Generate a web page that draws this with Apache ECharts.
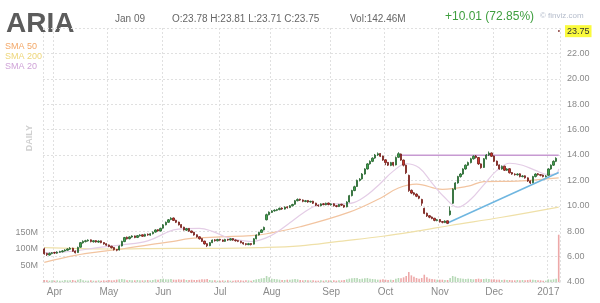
<!DOCTYPE html>
<html><head><meta charset="utf-8">
<script src="https://cdn.jsdelivr.net/npm/echarts@6/dist/echarts.min.js"></script>
<style>html,body{margin:0;padding:0;background:#fff}#c{width:600px;height:303px}</style>
</head><body><div id="c"></div><script>
// trading days shown (year-month, days)
const tradingDays = [
 ['2016-03',[28,29,30,31]],
 ['2016-04',[1,4,5,6,7,8,11,12,13,14,15,18,19,20,21,22,25,26,27,28,29]],
 ['2016-05',[2,3,4,5,6,9,10,11,12,13,16,17,18,19,20,23,24,25,26,27,31]],
 ['2016-06',[1,2,3,6,7,8,9,10,13,14,15,16,17,20,21,22,23,24,27,28,29,30]],
 ['2016-07',[1,5,6,7,8,11,12,13,14,15,18,19,20,21,22,25,26,27,28,29]],
 ['2016-08',[1,2,3,4,5,8,9,10,11,12,15,16,17,18,19,22,23,24,25,26,29,30,31]],
 ['2016-09',[1,2,6,7,8,9,12,13,14,15,16,19,20,21,22,23,26,27,28,29,30]],
 ['2016-10',[3,4,5,6,7,10,11,12,13,14,17,18,19,20,21,24,25,26,27,28,31]],
 ['2016-11',[1,2,3,4,7,8,9,10,11,14,15,16,17,18,21,22,23,25,28,29,30]],
 ['2016-12',[1,2,5,6,7,8,9,12,13,14,15,16,19,20,21,22,23,27,28,29,30]],
 ['2017-01',[3,4,5,6,9]]
];
const monthLabels = {'2016-04':'Apr','2016-05':'May','2016-06':'Jun','2016-07':'Jul','2016-08':'Aug',
 '2016-09':'Sep','2016-10':'Oct','2016-11':'Nov','2016-12':'Dec','2017-01':'2017'};

// [open, close, low, high]
const candles = [
[6.60,6.22,6.15,6.70],[6.25,6.15,6.05,6.30],[6.12,6.25,6.08,6.32],[6.24,6.30,6.18,6.36],[6.32,6.28,6.20,6.38],
[6.27,6.35,6.22,6.42],[6.34,6.40,6.30,6.46],[6.38,6.45,6.33,6.52],[6.44,6.52,6.40,6.58],[6.50,6.60,6.46,6.66],
[6.58,6.65,6.52,6.75],[6.66,6.42,6.38,6.70],[6.44,6.30,6.25,6.48],[6.32,6.72,6.30,6.78],[6.74,7.10,6.70,7.15],
[7.08,7.20,7.02,7.28],[7.18,7.25,7.12,7.32],[7.24,7.30,7.18,7.36],[7.32,7.18,7.12,7.35],[7.17,7.25,7.10,7.30],
[7.26,7.15,7.10,7.30],[7.14,7.22,7.08,7.28],[7.24,7.10,7.05,7.26],[7.11,7.00,6.94,7.14],[7.02,6.90,6.85,7.05],
[6.92,6.80,6.74,6.95],[6.82,6.70,6.64,6.85],[6.72,6.55,6.48,6.75],[6.56,6.50,6.42,6.60],[6.52,6.82,6.48,6.88],
[6.84,7.20,6.80,7.25],[7.18,7.50,7.14,7.55],[7.52,7.40,7.35,7.58],[7.41,7.55,7.36,7.60],[7.54,7.62,7.48,7.68],
[7.63,7.50,7.45,7.66],[7.51,7.65,7.46,7.70],[7.64,7.70,7.58,7.76],[7.72,7.60,7.55,7.75],[7.61,7.75,7.56,7.80],
[7.76,7.70,7.64,7.82],[7.69,7.80,7.64,7.85],[7.80,7.92,7.75,7.98],[7.93,8.10,7.88,8.15],[8.12,8.02,7.96,8.16],
[8.01,8.22,7.98,8.28],[8.24,8.50,8.20,8.56],[8.50,8.70,8.46,8.76],[8.70,8.90,8.66,8.96],[8.92,9.02,8.86,9.10],
[9.04,8.85,8.80,9.08],[8.86,8.70,8.64,8.90],[8.72,8.50,8.45,8.75],[8.52,8.30,8.25,8.55],[8.32,8.10,8.05,8.35],
[8.08,8.20,8.02,8.26],[8.22,8.00,7.95,8.25],[8.02,7.90,7.84,8.05],[7.92,7.70,7.65,7.95],[7.72,7.55,7.50,7.75],
[7.56,7.40,7.34,7.60],[7.42,7.20,7.15,7.45],[7.22,7.00,6.94,7.25],[7.02,6.85,6.75,7.05],[6.86,7.10,6.82,7.15],
[7.10,7.30,7.06,7.35],[7.32,7.25,7.18,7.38],[7.24,7.35,7.20,7.40],[7.36,7.30,7.24,7.40],[7.31,7.20,7.15,7.34],
[7.20,7.35,7.16,7.40],[7.36,7.30,7.24,7.40],[7.30,7.40,7.26,7.45],[7.42,7.30,7.24,7.45],[7.31,7.25,7.18,7.35],
[7.26,7.20,7.14,7.30],[7.21,7.10,7.04,7.24],[7.11,7.00,6.94,7.14],[7.02,6.95,6.88,7.06],[6.94,7.02,6.90,7.08],
[7.03,6.95,6.88,7.06],[6.98,7.40,6.95,7.45],[7.40,7.70,7.36,7.75],[7.70,7.90,7.66,7.96],[7.90,8.10,7.86,8.16],
[8.10,8.30,8.06,8.36],[8.90,9.30,8.85,9.38],[9.30,9.50,9.25,9.56],[9.48,9.60,9.44,9.66],[9.60,9.65,9.54,9.72],
[9.64,9.70,9.58,9.76],[9.70,9.80,9.65,9.86],[9.82,9.75,9.68,9.88],[9.74,9.90,9.70,9.95],[9.92,9.85,9.78,9.96],
[9.86,10.00,9.82,10.06],[10.00,10.10,9.95,10.16],[10.12,10.40,10.08,10.46],[10.40,10.50,10.35,10.58],[10.52,10.45,10.38,10.56],
[10.46,10.35,10.28,10.50],[10.34,10.40,10.28,10.46],[10.42,10.30,10.24,10.45],[10.30,10.35,10.25,10.40],[10.36,10.20,10.14,10.40],
[10.21,10.05,9.98,10.24],[10.06,10.00,9.92,10.10],[10.00,10.15,9.96,10.20],[10.16,10.10,10.04,10.22],[10.08,10.20,10.04,10.25],
[10.22,10.10,10.04,10.25],[10.08,10.15,10.02,10.20],[10.16,10.00,9.94,10.20],[10.01,9.95,9.88,10.05],[9.94,10.10,9.90,10.15],
[10.12,10.05,9.98,10.16],[10.04,9.90,9.84,10.08],[9.92,10.30,9.88,10.36],[10.30,10.80,10.26,10.86],[10.80,11.20,10.74,11.26],
[11.20,11.50,11.15,11.58],[11.52,12.00,11.48,12.06],[12.00,12.10,11.92,12.18],[12.12,12.50,12.06,12.58],[12.50,12.90,12.45,12.96],
[12.90,13.30,12.85,13.36],[13.30,13.50,13.24,13.58],[13.50,13.75,13.44,13.82],[13.76,14.00,13.70,14.08],[14.00,14.10,13.92,14.20],
[14.12,13.90,13.84,14.15],[13.92,13.60,13.54,13.95],[13.62,13.40,13.20,13.66],[13.42,13.20,13.14,13.45],[13.18,13.40,13.12,13.46],
[13.42,13.20,13.10,13.45],[13.22,13.80,13.18,13.88],[13.82,14.10,13.76,14.22],[14.08,13.60,13.54,14.12],[13.60,13.20,13.10,13.64],
[13.20,12.60,12.50,13.24],[12.40,11.20,11.10,12.45],[11.22,11.00,10.92,11.28],[11.02,10.90,10.82,11.08],[10.92,10.75,10.68,10.98],
[10.76,10.60,10.52,10.80],[10.50,10.20,10.00,10.55],[9.80,9.40,9.34,9.85],[9.42,9.20,9.12,9.46],[9.22,9.10,9.02,9.26],
[9.12,9.00,8.94,9.16],[9.02,8.85,8.78,9.05],[8.84,8.90,8.78,8.96],[8.92,8.75,8.68,8.95],[8.76,8.70,8.62,8.80],
[8.68,8.80,8.64,8.86],[8.82,8.62,8.56,8.85],[9.30,9.60,9.22,9.95],[10.20,11.30,10.15,11.38],[11.30,11.80,11.24,11.86],
[11.80,12.30,11.74,12.36],[12.30,12.50,12.22,12.58],[12.50,12.90,12.44,12.96],[12.90,13.20,12.84,13.26],[13.20,13.40,13.14,13.48],
[13.40,13.70,13.34,13.78],[13.70,13.90,13.64,13.98],[13.92,13.80,13.72,14.00],[13.80,13.30,13.22,13.84],[13.30,13.00,12.92,13.34],
[13.02,13.70,12.98,13.76],[13.70,14.00,13.64,14.08],[14.00,14.15,13.92,14.28],[14.16,13.90,13.84,14.20],[13.92,13.50,13.44,13.95],
[13.52,13.20,13.14,13.56],[13.22,12.90,12.84,13.26],[12.90,13.10,12.84,13.18],[13.12,12.80,12.74,13.16],[12.80,12.90,12.74,12.96],
[12.92,12.60,12.54,12.96],[12.62,12.50,12.44,12.66],[12.50,12.45,12.38,12.56],[12.44,12.50,12.38,12.56],[12.52,12.30,12.24,12.56],
[12.30,12.35,12.24,12.42],[12.36,12.20,12.14,12.40],[12.20,11.95,11.88,12.24],[11.96,11.80,11.72,12.00],[11.82,12.30,11.78,12.36],
[12.30,12.50,12.24,12.56],[12.52,12.45,12.38,12.58],[12.46,12.40,12.32,12.50],[12.42,12.30,12.24,12.46],[12.30,12.35,12.24,12.42],
[12.40,12.90,12.36,12.96],[12.90,13.20,12.84,13.26],[13.20,13.50,13.14,13.58],[13.50,13.74,13.44,13.82],[23.78,23.75,23.71,23.81]
];

// daily volume, millions
const volumeM = [
6,5,4,5,4,5,4,4,6,5, 5,6,4,7,9,5,4,4,5,4, 4,5,4,5,4,6,5,5,7,8, 9,8,5,6,5,5,6,5,5,5,
6,5,6,8,7,9,10,8,8,9, 7,7,8,7,8,6,6,7,6,6, 7,8,8,9,6,5,5,4,4,5, 4,5,4,4,5,5,5,4,5,5,
4,6,8,9,11,12,18,14,10,9, 8,7,6,6,7,7,8,9,8,6, 5,6,5,5,5,4,4,5,4,5, 5,4,5,4,5,5,6,8,10,11,
12,12,9,10,11,12,10,9,8,7, 7,8,7,6,7,6,10,12,11,14, 18,30,20,16,12,10,12,22,14,10, 9,8,7,7,7,6,6,12,18,16,
12,11,10,9,10,9,8,9,10,8, 9,10,9,8,8,7,7,6,7,6, 6,5,5,6,5,6,5,6,7,7, 6,5,5,4,4,8,7,8,10,142.46
];

// moving averages: [day index, value]
const sma20 = [[0,6.3],[10,6.4],[20,6.69],[30,6.93],[40,7.24],[50,8.1],[55,8.21],[60,8.22],[65,7.99],[70,7.56],[76,7.28],[80,7.19],[86,7.49],[90,7.93],[95,8.66],[100,9.41],[105,10.0],[110,10.13],[116,10.16],[120,10.27],[125,10.87],[130,11.76],[135,12.73],[140,13.31],[145,12.99],[150,11.79],[155,10.63],[160,9.89],[165,10.51],[170,11.65],[175,12.77],[180,13.35],[185,13.19],[190,12.79],[195,12.45],[198,12.51],[199,12.9]];
const sma50 = [[0,5.55],[12,6.1],[24,6.45],[30,6.6],[41,6.95],[50,7.2],[56,7.42],[68,7.55],[80,7.65],[86,7.8],[99,8.35],[118,9.5],[130,10.6],[137,11.4],[144,11.7],[154,11.3],[164,11.55],[170,11.9],[183,11.95],[199,12.2]];
const sma200 = [[0,6.7],[25,6.6],[50,6.65],[68,6.65],[83,6.7],[99,6.85],[114,7.2],[131,7.6],[144,8.0],[157,8.45],[177,9.1],[199,9.9]];
// drawn trend lines
const resistanceLine = [[137,13.98],[199,13.98]];
const supportLine = [[156,8.65],[199,12.62]];

const headerDate = 'Jan 09';
const headerOHLC = 'O:23.78 H:23.81 L:23.71 C:23.75';
const headerVol = 'Vol:142.46M';
const headerChange = '+10.01 (72.85%)';

const dates = [];
tradingDays.forEach(([ym, days]) => days.forEach(d => dates.push(ym + '-' + String(d).padStart(2, '0'))));
const monthStart = dates.map((d, i) => i === 0 || d.slice(0, 7) !== dates[i - 1].slice(0, 7));
const lastClose = candles[candles.length - 1][1];

const chart = echarts.init(document.getElementById('c'), null, {renderer: 'canvas'});
const FONT = '"Liberation Sans", Arial, sans-serif';
chart.setOption({
  animation: false,
  backgroundColor: '#fff',
  grid: {left: 43, right: 40, top: 28, bottom: 21},
  xAxis: {
    type: 'category', data: dates, boundaryGap: true,
    axisLine: {show: true, lineStyle: {color: '#dcdcdc', type: [2, 2]}},
    axisTick: {show: false},
    axisLabel: {interval: i => monthStart[i], formatter: v => monthLabels[v.slice(0, 7)] || '',
      color: '#8a8a8a', fontSize: 10, fontFamily: FONT, margin: 5},
    splitLine: {show: true, interval: i => monthStart[i], lineStyle: {color: '#e0e0e0', type: [2, 2]}}
  },
  yAxis: [
    {type: 'value', position: 'right', min: 4, max: 24, interval: 2,
     axisLine: {show: false}, axisTick: {show: false},
     axisLabel: {color: '#8a8a8a', fontSize: 9, fontFamily: FONT, margin: 7, formatter: v => v >= 24 ? '' : v.toFixed(2)},
     splitLine: {lineStyle: {color: '#e0e0e0', type: [2, 2]}}},
    {type: 'value', position: 'left', min: 0, max: 765, interval: 50,
     axisLine: {show: false}, axisTick: {show: false}, splitLine: {show: false},
     axisLabel: {color: '#8a8a8a', fontSize: 9, fontFamily: FONT, margin: 5, formatter: v => (v > 0 && v <= 150) ? v + 'M' : ''}}
  ],
  series: [
    {type: 'bar', yAxisIndex: 1, barWidth: 1.6, z: 1,
     data: volumeM.map((v, i) => ({value: v, itemStyle: {color: candles[i][1] >= candles[i][0] ? 'rgba(110,180,110,0.5)' : 'rgba(225,110,110,0.6)'}}))},
    {type: 'line', data: sma200, showSymbol: false, smooth: 0.4, lineStyle: {color: '#efe0a8', width: 1.2}, z: 2},
    {type: 'line', data: sma50, showSymbol: false, smooth: 0.4, lineStyle: {color: '#f2c4a0', width: 1.2}, z: 2},
    {type: 'line', data: sma20, showSymbol: false, smooth: 0.4, lineStyle: {color: '#e4cde6', width: 1.2}, z: 2},
    {type: 'line', data: resistanceLine, showSymbol: false, lineStyle: {color: '#c79ad2', width: 1.5}, z: 3},
    {type: 'line', data: supportLine, showSymbol: false, lineStyle: {color: '#6fb6e0', width: 1.5}, z: 3},
    {type: 'candlestick', data: candles, barWidth: '70%', z: 4, clip: false,
     itemStyle: {color: '#3fa34d', color0: '#d0342c', borderColor: '#23602b', borderColor0: '#6e1d18', borderWidth: 0.8},
     markLine: {silent: true, symbol: ['none', 'none'], lineStyle: {color: 'rgba(255,255,255,0)', width: 1, type: 'solid'},
       label: {show: true, position: 'end', formatter: () => lastClose.toFixed(2), backgroundColor: '#fafa3c',
         color: '#333', fontSize: 9, fontFamily: FONT, padding: [2, 2, 1, 2], distance: 5},
       data: [{yAxis: lastClose}]}}
  ],
  graphic: [
    {type: 'text', left: 6, top: 10, style: {text: 'ARIA', font: 'bold 28px ' + FONT, fill: '#5c5c5c'}},
    {type: 'text', left: 115, top: 14, style: {text: headerDate, font: '10px ' + FONT, fill: '#666'}},
    {type: 'text', left: 172, top: 14, style: {text: headerOHLC, font: '10px ' + FONT, fill: '#666'}},
    {type: 'text', left: 350, top: 14, style: {text: headerVol, font: '10px ' + FONT, fill: '#666'}},
    {type: 'text', left: 445, top: 11, style: {text: headerChange, font: '12px ' + FONT, fill: '#3e9e3e'}},
    {type: 'text', left: 540, top: 12, style: {text: '\u00a9 finviz.com', font: '8px ' + FONT, fill: '#b4bccb'}},
    {type: 'text', left: 5, top: 42, style: {text: 'SMA 50', font: '9px ' + FONT, fill: '#f3a868'}},
    {type: 'text', left: 5, top: 52, style: {text: 'SMA 200', font: '9px ' + FONT, fill: '#eed67a'}},
    {type: 'text', left: 5, top: 62, style: {text: 'SMA 20', font: '9px ' + FONT, fill: '#d0a4d8'}},
    {type: 'text', left: 25, top: 125, rotation: Math.PI / 2, style: {text: 'DAILY', font: 'bold 9px ' + FONT, fill: '#d0d0d0'}}
  ]
});
</script></body></html>
